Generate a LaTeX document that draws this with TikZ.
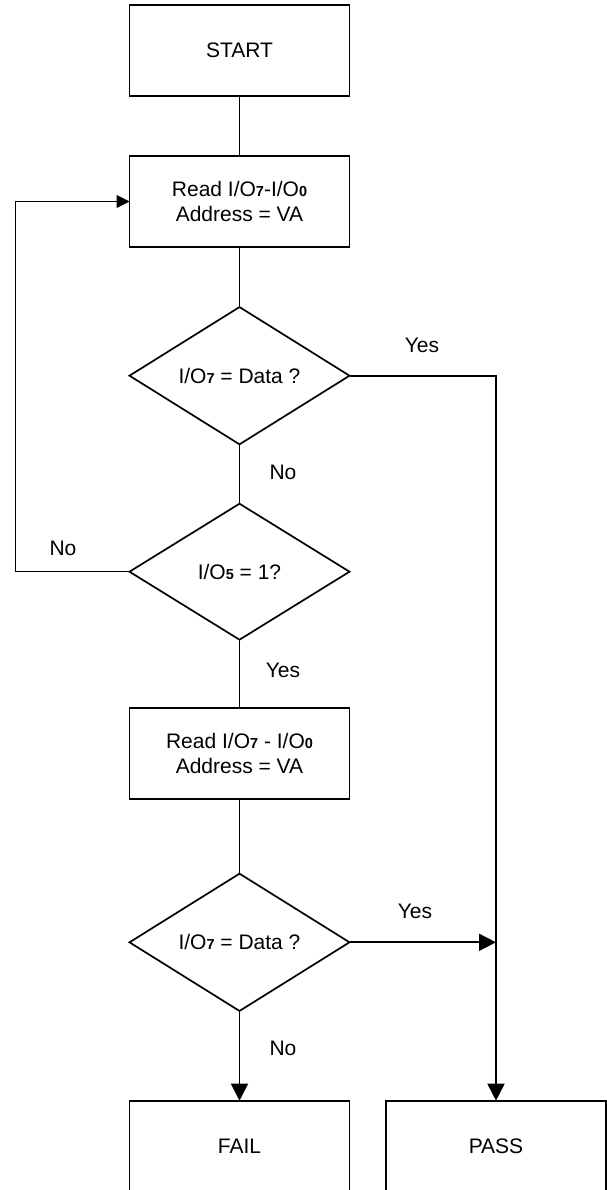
\documentclass[tikz,border=0pt]{standalone}
\usepackage{fontspec}
\setmainfont{Liberation Sans}
\usetikzlibrary{shapes.geometric,arrows.meta}
\newcommand{\dg}[1]{{\bfseries\fontsize{14.5}{14.5}\selectfont #1}}
\begin{document}
\begin{tikzpicture}[x=1pt,y=-1pt,
  every node/.style={font=\fontsize{21}{25}\selectfont},
  procbox/.style={draw,line width=1.7pt,rectangle,minimum width=220pt,minimum height=91pt,inner sep=0pt,outer sep=0pt,align=center},
  decide/.style={draw,line width=1.7pt,diamond,minimum width=220pt,minimum height=136pt,inner sep=0pt,outer sep=0pt,align=center},
  conn/.style={line width=1.7pt},
  bigarrow/.style={line width=1.7pt,-{Triangle[length=17pt,width=17pt]}},
  thinarrow/.style={line width=1pt,-{Triangle[length=13pt,width=13pt]}},
  lbl/.style={inner sep=0pt}]
\useasboundingbox (0,0) rectangle (607,1190);
\clip (0,0) rectangle (607,1190);
\node[procbox] (start) at (239.5,50.5) {START};
\node[procbox] (r1) at (239.5,201.5) {Read I/O\dg{7}-I/O\dg{0}\\Address = VA};
\node[decide] (d1) at (239.5,375.7) {I/O\dg{7} = Data ?};
\node[decide] (d2) at (239.5,571.7) {I/O\dg{5} = 1?};
\node[procbox] (r2) at (239.5,753.3) {Read I/O\dg{7} - I/O\dg{0}\\Address = VA};
\node[decide] (d3) at (239.5,942.3) {I/O\dg{7} = Data ?};
\node[procbox] (fail) at (239.5,1146.2) {FAIL};
\node[procbox] (pass) at (496,1146.2) {PASS};
\coordinate (lp) at (15.7,571.7);
\coordinate (jn) at (pass.north |- d3.east);
\draw[conn] (start) -- (r1);
\draw[conn] (r1) -- (d1);
\draw[conn] (d1) -- (d2);
\draw[conn] (d2) -- (r2);
\draw[conn] (r2) -- (d3);
\draw[bigarrow] (d3.south) -- (fail.north);
\draw[bigarrow] (d1.east) -| (pass.north);
\draw[bigarrow] (d3.east) -- (jn);
\draw[thinarrow] (d2.west) -- (lp) |- (r1.west);
\node[lbl] (ly1) at (422,345) {Yes};
\node[lbl] (ln1) at (283,472.7) {No};
\node[lbl] (ln2) at (63,548) {No};
\node[lbl] (ly2) at (283,670) {Yes};
\node[lbl] (ly3) at (415,911.7) {Yes};
\node[lbl] (ln3) at (283,1048) {No};
\end{tikzpicture}
\end{document}
